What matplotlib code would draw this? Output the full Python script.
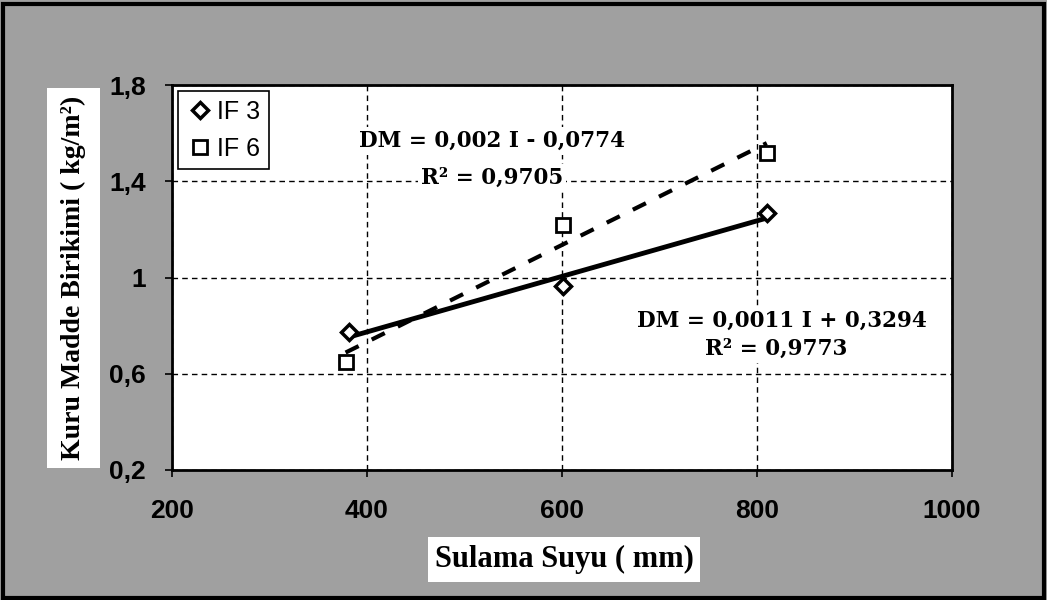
import numpy as np
import matplotlib
matplotlib.use("Agg")
from matplotlib import pyplot as plt
from matplotlib.ticker import FuncFormatter
from matplotlib.patches import Rectangle

# values
if3_x = [382, 601, 810]
if3_y = [0.773, 0.965, 1.268]
if6_x = [378, 601, 810]
if6_y = [0.649, 1.218, 1.517]
x_ticks = [200, 400, 600, 800, 1000]
y_ticks = [0.2, 0.6, 1.0, 1.4, 1.8]
eq_if6 = ["DM = 0,002 I - 0,0774", "R² = 0,9705"]
eq_if3 = ["DM = 0,0011 I + 0,3294", "R² = 0,9773"]

serif = "Liberation Serif"
sans = "Liberation Sans"

fig = plt.figure(figsize=(10.47, 6), dpi=100, facecolor="#a0a0a0")
ax = fig.add_axes([0.1643, 0.2167, 0.745, 0.6416])
ax.set_facecolor("white")

ax.set_xlim(200, 1000)
ax.set_ylim(0.2, 1.8)
ax.set_xticks(x_ticks)
ax.set_yticks(y_ticks)
ax.grid(True, color="black", linestyle=(0, (4, 3)), linewidth=1.0)
ax.set_axisbelow(True)

def comma(v, pos):
    s = "%g" % v
    return s.replace(".", ",")

ax.yaxis.set_major_formatter(FuncFormatter(comma))
ax.tick_params(axis="both", direction="out", length=5, width=1.2,
               labelsize=19)
ax.tick_params(axis="x", pad=16)
ax.tick_params(axis="y", pad=14)
for lab in ax.get_xticklabels() + ax.get_yticklabels():
    lab.set_fontfamily(sans)
    lab.set_fontweight("bold")
for s in ax.spines.values():
    s.set_linewidth(2)
    s.set_color("black")

# trend lines (least squares, as the chart shows)
k3 = np.polyfit(if3_x, if3_y, 1)
k6 = np.polyfit(if6_x, if6_y, 1)
xs3 = np.array([min(if3_x), max(if3_x)])
xs6 = np.array([min(if6_x), max(if6_x)])
ax.plot(xs3, np.polyval(k3, xs3), color="black", linewidth=3.5)
ax.plot(xs6, np.polyval(k6, xs6), color="black", linewidth=3,
        linestyle=(0, (3.5, 3.5)))

ax.plot(if3_x, if3_y, linestyle="none", marker="D", markersize=8,
        markerfacecolor="white", markeredgecolor="black", markeredgewidth=2.5,
        label="IF 3")
ax.plot(if6_x, if6_y, linestyle="none", marker="s", markersize=10,
        markerfacecolor="white", markeredgecolor="black", markeredgewidth=2,
        label="IF 6")

leg = ax.legend(loc="upper left", frameon=True, fancybox=False,
                edgecolor="black", framealpha=1, borderaxespad=0.25,
                handletextpad=0.2, handlelength=1.0, borderpad=0.35,
                labelspacing=0.5, prop={"family": sans, "size": 18})
leg.get_frame().set_linewidth(1.2)

eq_font = dict(fontfamily="DejaVu Serif", fontweight="bold", fontsize=15.5,
               ha="center", va="center",
               bbox=dict(facecolor="white", edgecolor="none", pad=2))
ax.text(528, 1.567, eq_if6[0], **eq_font)
ax.text(528, 1.413, eq_if6[1], **eq_font)
ax.text(826, 0.819, eq_if3[0], **eq_font)
ax.text(820, 0.703, eq_if3[1], **eq_font)

# white boxes behind the axis titles
fig.patches.append(Rectangle((0.0449, 0.22), 0.0506, 0.633,
                             transform=fig.transFigure, facecolor="white",
                             edgecolor="none", zorder=0.5))
fig.patches.append(Rectangle((0.4088, 0.03), 0.2598, 0.075,
                             transform=fig.transFigure, facecolor="white",
                             edgecolor="none", zorder=0.5))

fig.text(0.0702, 0.5375, "Kuru Madde Birikimi ( kg/m²)", rotation=90,
         fontfamily=serif, fontweight="bold", fontsize=20,
         ha="center", va="center")
fig.text(0.5387, 0.0675, "Sulama Suyu ( mm)", fontfamily=serif,
         fontweight="bold", fontsize=22, ha="center", va="center")

fig.patches.append(Rectangle((0.003, 0.004), 0.994, 0.99, transform=fig.transFigure,
                             fill=False, edgecolor="black", linewidth=3))

fig.savefig("out.png", dpi=100, facecolor=fig.get_facecolor())
